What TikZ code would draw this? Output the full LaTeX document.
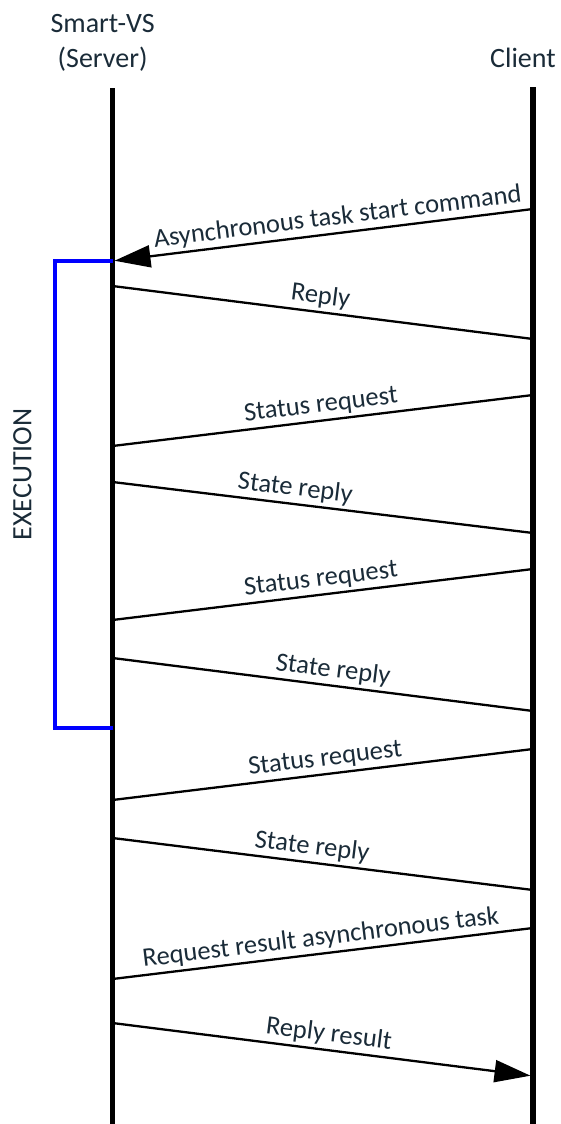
\documentclass[tikz,border=0pt]{standalone}
\usepackage{fontspec}
\setmainfont{Carlito}
\usetikzlibrary{arrows.meta}
\definecolor{inkslate}{RGB}{26,43,56}
\definecolor{execblue}{RGB}{0,0,255}

\begin{document}
\begin{tikzpicture}[
    x=1pt, y=-1pt,
    lifeline/.style={line width=4.5pt, black},
    msg/.style={line width=2.3pt, black},
    msgarrow/.style={msg, -{Triangle[length=36pt, width=22pt]}},
    msglabel/.style={sloped, above, inner sep=3pt, text=inkslate, font=\fontsize{26.5}{31}\selectfont},
    title/.style={align=center, text=inkslate, inner sep=0pt, font=\fontsize{28}{35}\selectfont},
    bracket/.style={line width=4pt, execblue}
]
    \useasboundingbox (0,0) rectangle (560,1124);

    % participants
    \node[title, anchor=base] (srvtitle) at (102.6,67) {Smart-VS\\(Server)};
    \node[title, anchor=base] (clititle) at (523,67) {Client};

    % lifelines
    \coordinate (srvtop) at (112.5,88);
    \coordinate (srvbot) at (112.5,1124);
    \coordinate (clitop) at (533,87);
    \coordinate (clibot) at (533,1124);
    \draw[lifeline] (srvtop) -- (srvbot);
    \draw[lifeline, line width=5.5pt] (clitop) -- (clibot);

    % message end points
    \coordinate (c1) at (533,209);   \coordinate (s1) at (112.5,261);
    \coordinate (s2) at (112.5,286); \coordinate (c2) at (533,339);
    \coordinate (c3) at (533,395);   \coordinate (s3) at (112.5,446);
    \coordinate (s4) at (112.5,482); \coordinate (c4) at (533,533);
    \coordinate (c5) at (533,569);   \coordinate (s5) at (112.5,620);
    \coordinate (s6) at (112.5,658); \coordinate (c6) at (533,711);
    \coordinate (c7) at (533,749);   \coordinate (s7) at (112.5,800);
    \coordinate (s8) at (112.5,838); \coordinate (c8) at (533,890);
    \coordinate (c9) at (533,928);   \coordinate (s9) at (112.5,979);
    \coordinate (s10) at (112.5,1023); \coordinate (c10) at (533,1076);

    % messages
    \draw[msgarrow, shorten >=2pt] (c1) -- node[msglabel, pos=0.46]{Asynchronous task start command} (s1);
    \draw[msg] (s2) -- node[msglabel, pos=0.49]{Reply} (c2);
    \draw[msg] (c3) -- node[msglabel, pos=0.50]{Status request} (s3);
    \draw[msg] (s4) -- node[msglabel, pos=0.43]{State reply} (c4);
    \draw[msg] (c5) -- node[msglabel, pos=0.50]{Status request} (s5);
    \draw[msg] (s6) -- node[msglabel, pos=0.52]{State reply} (c6);
    \draw[msg] (c7) -- node[msglabel, pos=0.49]{Status request} (s7);
    \draw[msg] (s8) -- node[msglabel, pos=0.47]{State reply} (c8);
    \draw[msg] (c9) -- node[msglabel, pos=0.50]{Request result asynchronous task} (s9);
    \draw[msgarrow, shorten >=2.5pt] (s10) -- node[msglabel, pos=0.51]{Reply result} (c10);

    % execution bracket
    \coordinate (exectop) at (112.5,261);
    \coordinate (execbot) at (112.5,728);
    \draw[bracket] (exectop) -- ++(-57.5,0) |- (execbot);
    \node[title, rotate=90] (execlabel) at (22.5,474.5) {EXECUTION};
\end{tikzpicture}
\end{document}
